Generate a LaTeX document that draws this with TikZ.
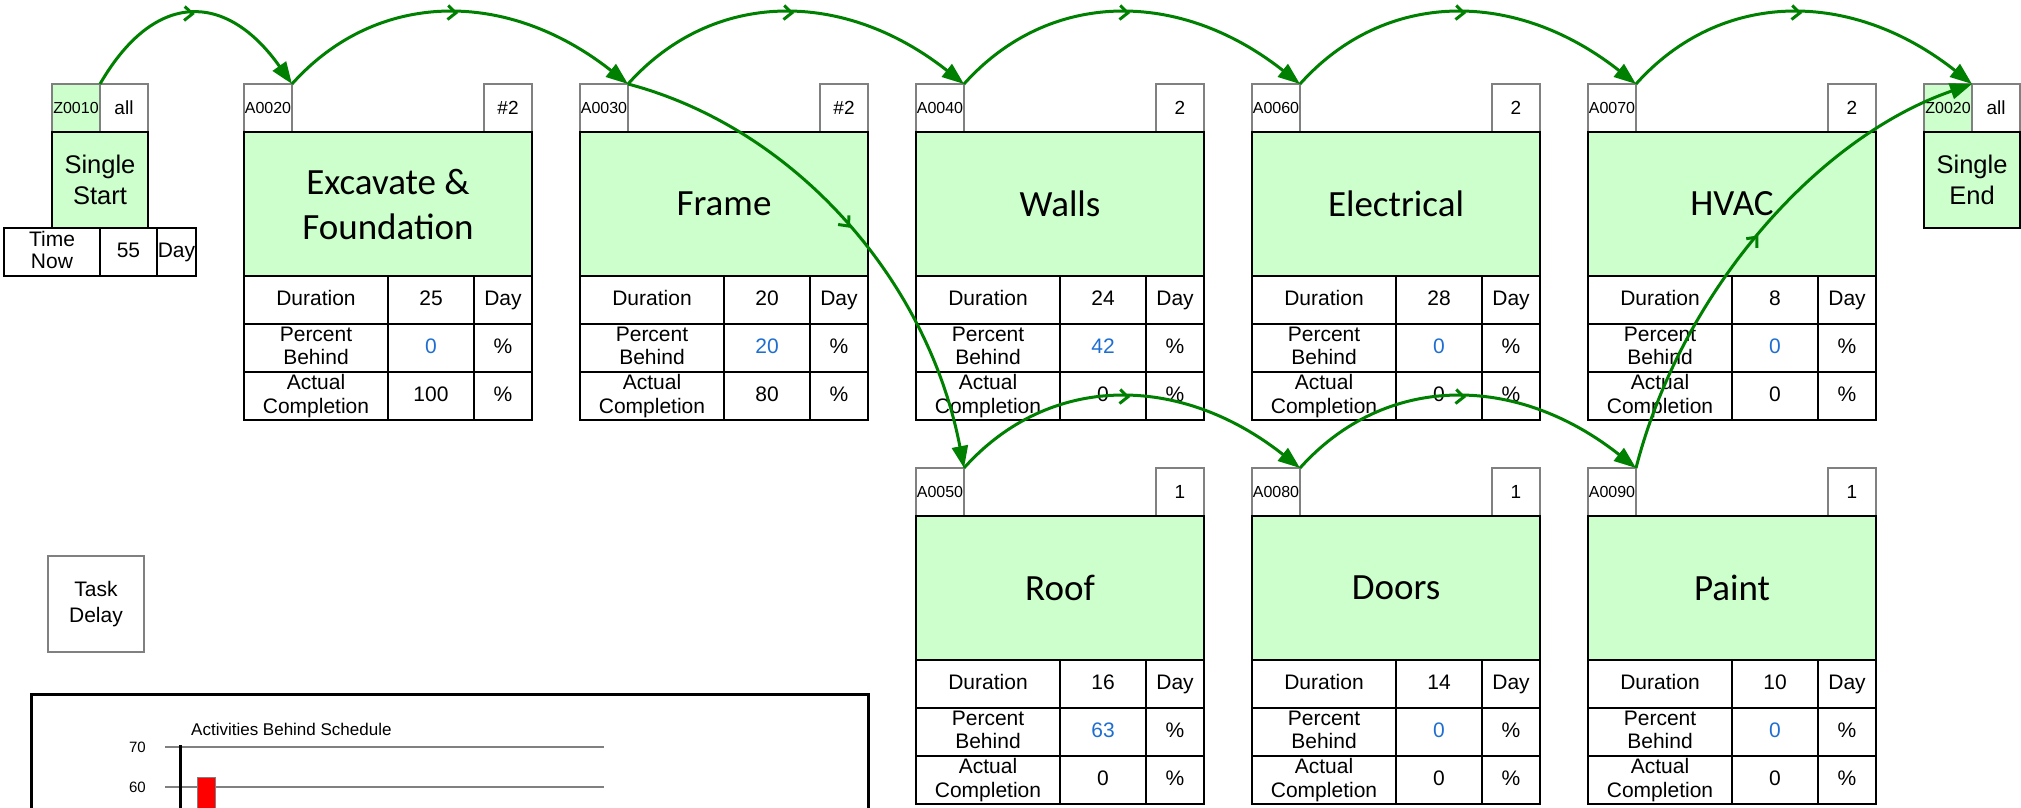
\documentclass[tikz,border=0pt]{standalone}
\usepackage{fontspec}
\setmainfont{Liberation Sans}
\newfontfamily\calib{Carlito}
\usetikzlibrary{arrows.meta,decorations.markings,calc}

\definecolor{actfill}{RGB}{204,255,204}
\definecolor{linkgreen}{RGB}{0,128,0}
\definecolor{pbblue}{RGB}{30,110,210}
\definecolor{hdrgray}{RGB}{128,128,128}

\tikzset{
  cellbase/.style={rectangle, inner sep=0pt, outer sep=0pt, anchor=north west, align=center},
  idcell/.style={cellbase, draw=hdrgray, line width=2pt, minimum width=48pt, minimum height=48pt,
    font=\fontsize{16}{18}\selectfont},
  cntcell/.style={idcell, anchor=north east, font=\fontsize{19}{21}\selectfont},
  namecell/.style={cellbase, draw=black, line width=2.5pt, fill=actfill, minimum width=288pt,
    minimum height=144pt, font=\calib\fontsize{37}{45}\selectfont},
  milecell/.style={cellbase, draw=black, line width=2.5pt, fill=actfill, minimum width=96pt,
    minimum height=96pt, font=\fontsize{25.5}{31.7}\selectfont},
  tcell/.style={cellbase, draw=black, line width=2.5pt, minimum height=48pt,
    font=\fontsize{21}{23.3}\selectfont, execute at begin node={\vphantom{Dy}}},
  link/.style={color=linkgreen, line width=3pt, -{Triangle[length=22pt,width=16pt]},
    postaction={decorate},
    decoration={markings, mark=at position 0.5 with {\arrow{Straight Barb[length=8pt,width=14pt]}}}},
  gridrule/.style={draw=hdrgray, line width=2pt},
  ticklabel/.style={anchor=east, inner sep=0pt, font=\fontsize{15}{17}\selectfont}
}

% one table row: name, x, top y, label, value, unit
\newcommand\actrow[6]{%
  \node[tcell, minimum width=144pt] (#1l) at (#2,#3) {#4};
  \node[tcell, minimum width=86pt] (#1v) at (#2+144,#3) {#5};
  \node[tcell, minimum width=58pt] (#1u) at (#2+230,#3) {#6};
}

% activity box: name, x, y, id, count, title, duration, percent behind, actual completion
\newcommand\actbox[9]{%
  \node[idcell] (#1id) at (#2,#3) {#4};
  \node[cntcell] (#1cnt) at (#2+288,#3) {#5};
  \node[namecell] (#1) at (#2,#3+48) {#6};
  \actrow{#1d}{#2}{#3+192}{Duration}{#7}{Day}
  \actrow{#1p}{#2}{#3+240}{Percent\\Behind}{\textcolor{pbblue}{#8}}{\%}
  \actrow{#1c}{#2}{#3+288}{Actual\\Completion}{#9}{\%}
}

\begin{document}
\begin{tikzpicture}[x=1pt, y=-1pt]
\useasboundingbox (0,0) rectangle (2021,807);
\clip (0,0) rectangle (2021,807);

% start milestone and time-now table
\node[idcell, fill=actfill] (z0010id) at (52,84) {Z0010};
\node[idcell, font=\fontsize{19}{21}\selectfont] (z0010cnt) at (100,84) {all};
\node[milecell] (z0010) at (52,132) {Single\\Start};
\node[tcell, minimum width=96pt, font=\fontsize{21}{22.7}\selectfont] (tnlabel) at (4,228) {Time\\Now};
\node[tcell, minimum width=57pt] (tnvalue) at (100,228) {55};
\node[tcell, minimum width=39pt] (tnunit) at (157,228) {Day};

% finish milestone
\node[idcell, fill=actfill] (z0020id) at (1924,84) {Z0020};
\node[idcell, font=\fontsize{19}{21}\selectfont] (z0020cnt) at (1972,84) {all};
\node[milecell] (z0020) at (1924,132) {Single\\End};

% activities
\actbox{a0020}{244}{84}{A0020}{\#2}{Excavate \&\\Foundation}{25}{0}{100}
\actbox{a0030}{580}{84}{A0030}{\#2}{Frame}{20}{20}{80}
\actbox{a0040}{916}{84}{A0040}{2}{Walls}{24}{42}{0}
\actbox{a0060}{1252}{84}{A0060}{2}{Electrical}{28}{0}{0}
\actbox{a0070}{1588}{84}{A0070}{2}{HVAC}{8}{0}{0}
\actbox{a0050}{916}{468}{A0050}{1}{Roof}{16}{63}{0}
\actbox{a0080}{1252}{468}{A0080}{1}{Doors}{14}{0}{0}
\actbox{a0090}{1588}{468}{A0090}{1}{Paint}{10}{0}{0}

% legend box
\node[cellbase, draw=hdrgray, line width=2pt, minimum width=96pt, minimum height=96pt,
  font=\fontsize{21}{26}\selectfont] (taskdelay) at (48,556) {Task\\Delay};

% chart panel
\draw[line width=3pt] (31,812) -- (31,694) -- (868,694) -- (868,812);
\node[anchor=base west, inner sep=0pt, font=\fontsize{17}{19}\selectfont] (charttitle) at (191,735) {Activities Behind Schedule};
\draw[gridrule] (165,747) -- (604,747);
\draw[gridrule] (165,787) -- (604,787);
\node[ticklabel] (tick70) at (146,747) {70};
\node[ticklabel] (tick60) at (146,787) {60};
\draw[line width=3pt] (180,745) -- (180,812);
\filldraw[fill=red, draw=hdrgray, line width=1.5pt] (197.5,777.5) rectangle (215.5,815);

% logic links
\draw[link] (z0010id.north east) .. controls +(55,-95) and +(-65,-92) .. (a0020id.north east);
\draw[link] (a0020id.north east) .. controls +(85,-95) and +(-120,-95) .. (a0030id.north east);
\draw[link] (a0030id.north east) .. controls +(85,-95) and +(-120,-95) .. (a0040id.north east);
\draw[link] (a0040id.north east) .. controls +(85,-95) and +(-120,-95) .. (a0060id.north east);
\draw[link] (a0060id.north east) .. controls +(85,-95) and +(-120,-95) .. (a0070id.north east);
\draw[link] (a0070id.north east) .. controls +(85,-95) and +(-120,-95) .. (z0020id.north east);
\draw[link] (a0030id.north east) .. controls +(167,44) and +(-36,-188) .. (a0050id.north east);
\draw[link] (a0050id.north east) .. controls +(85,-95) and +(-120,-95) .. (a0080id.north east);
\draw[link] (a0080id.north east) .. controls +(85,-95) and +(-120,-95) .. (a0090id.north east);
\draw[link] (a0090id.north east) .. controls +(45,-175) and +(-156,54) .. (z0020id.north east);
\end{tikzpicture}
\end{document}
